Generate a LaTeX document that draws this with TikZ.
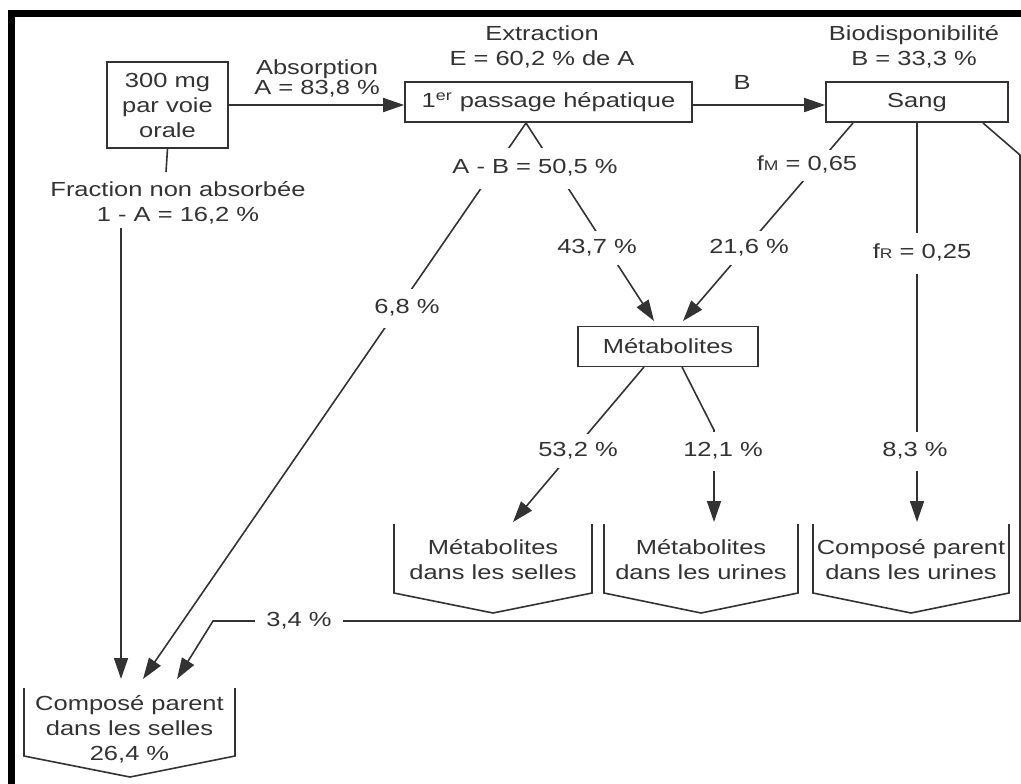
\documentclass[tikz,border=0pt]{standalone}
\usepackage{fontspec}
\setmainfont{Liberation Sans}[FakeStretch=1.25]
\usetikzlibrary{arrows.meta}

\definecolor{ink}{HTML}{333333}

\tikzset{
  box/.style={draw=ink, line width=0.8pt, inner sep=0pt, align=center},
  lbl/.style={fill=white, inner xsep=4pt, inner ysep=5pt, text height=7pt, text depth=1.5pt},
  arr/.style={-{Triangle[length=10.5pt,width=7pt]}},
}

\begin{document}
\begin{tikzpicture}[x=0.5pt, y=-0.5pt, line width=0.8pt, color=ink,
  font=\fontsize{10.2pt}{12.5pt}\selectfont]
\useasboundingbox (0,0) rectangle (1021,783);

% frame
\draw[black, line width=3.5pt] (11.5,790) -- (11.5,13.5) -- (1030,13.5);

% boxes
\node[box, minimum width=60.5pt, minimum height=43pt] (dose) at (167.5,105) {300 mg\\par voie\\orale};
\node[box, minimum width=143.5pt, minimum height=20pt] (liver) at (548.5,102) {1\textsuperscript{er} passage hépatique};
\node[box, minimum width=91pt, minimum height=20pt] (sang) at (917,102) {Sang};
\node[box, minimum width=90pt, minimum height=20pt] (metab) at (668,346.5) {Métabolites};

% headings
\node[align=center, font=\fontsize{10.2pt}{10pt}\selectfont] (absorb) at (317,78) {Absorption\\A = 83,8 \%};
\node[align=center] (extract) at (542,47) {Extraction\\E = 60,2 \% de A};
\node (labB) at (742,82) {B};
\node[align=center] (biodisp) at (914,47) {Biodisponibilité\\B = 33,3 \%};
\node[align=center] (nonabs) at (178,203) {Fraction non absorbée\\1 - A = 16,2 \%};

% free ends
\coordinate (apex) at (526,123);
\coordinate (sM) at (853,123);
\coordinate (sE) at (983,123);
\coordinate (fracTop) at (166,172);
\coordinate (fracBot) at (121,228);
\coordinate (mIn1) at (654,321);
\coordinate (mIn2) at (683,321);
\coordinate (mL) at (644,367);
\coordinate (mR) at (682,367);
\coordinate (bend) at (714,430);
\coordinate (fIn1) at (121,679);
\coordinate (fIn2) at (143,679);
\coordinate (fIn3) at (177,679);
\coordinate (bIn1) at (513,522);
\coordinate (bIn2) at (714,522);
\coordinate (bIn3) at (917,522);
\coordinate (rTop) at (1020,155);
\coordinate (rBot) at (1020,621);
\coordinate (lBend) at (213,621);

% connectors
\draw[arr] (dose.east) -- (dose.east -| liver.west);
\draw[arr] (dose.east -| liver.east) -- (dose.east -| sang.west);
\draw (dose.south) -- (fracTop);
\draw[arr] (fracBot) -- (fIn1);
\draw[arr] (apex) -- (fIn2);
\draw[arr] (apex) -- (mIn1);
\draw[arr] (sM) -- (mIn2);
\draw[arr] (sang.south) -- (bIn3);
\draw[arr] (mL) -- (bIn1);
\draw[arr] (mR) -- (bend) -- (bIn2);
\draw[arr] (sE) -- (rTop) -- (rBot) -- (lBend) -- (fIn3);

% labels on the lines
\node[lbl, inner ysep=6pt] (ab) at (535,168) {A - B = 50,5 \%};
\node[lbl, inner ysep=5.5pt] (p68) at (407,308) {6,8 \%};
\node[lbl, inner ysep=4.3pt] (p437) at (597,248) {43,7 \%};
\node[lbl, inner ysep=3.5pt] (fm) at (807,165) {f{\fontsize{7pt}{7pt}\selectfont M} = 0,65};
\node[lbl, inner ysep=4.3pt] (p216) at (749,248) {21,6 \%};
\node[lbl, inner ysep=6pt] (fr) at (922,253) {f{\fontsize{7pt}{7pt}\selectfont R} = 0,25};
\node[lbl, inner ysep=4.3pt] (p532) at (578,451) {53,2 \%};
\node[lbl, inner ysep=5.5pt] (p121) at (723,451) {12,1 \%};
\node[lbl, inner ysep=5.5pt] (p83) at (915,451) {8,3 \%};
\node[lbl, inner xsep=5.7pt] (p34) at (299,621) {3,4 \%};

% output bins
\draw (24,688) -- (24,756) -- (130,777) -- (235,756) -- (235,688);
\draw (394,524) -- (394,593) -- (493,613) -- (592,593) -- (592,524);
\draw (604,524) -- (604,593) -- (701,613) -- (798,593) -- (798,524);
\draw (813,524) -- (813,593) -- (911,613) -- (1009,593) -- (1009,524);

\node[align=center] (fec) at (129.5,729) {Composé parent\\dans les selles\\26,4 \%};
\node[align=center] (msel) at (493,560) {Métabolites\\dans les selles};
\node[align=center] (muri) at (701,560) {Métabolites\\dans les urines};
\node[align=center] (puri) at (911,560) {Composé parent\\dans les urines};
\end{tikzpicture}
\end{document}
